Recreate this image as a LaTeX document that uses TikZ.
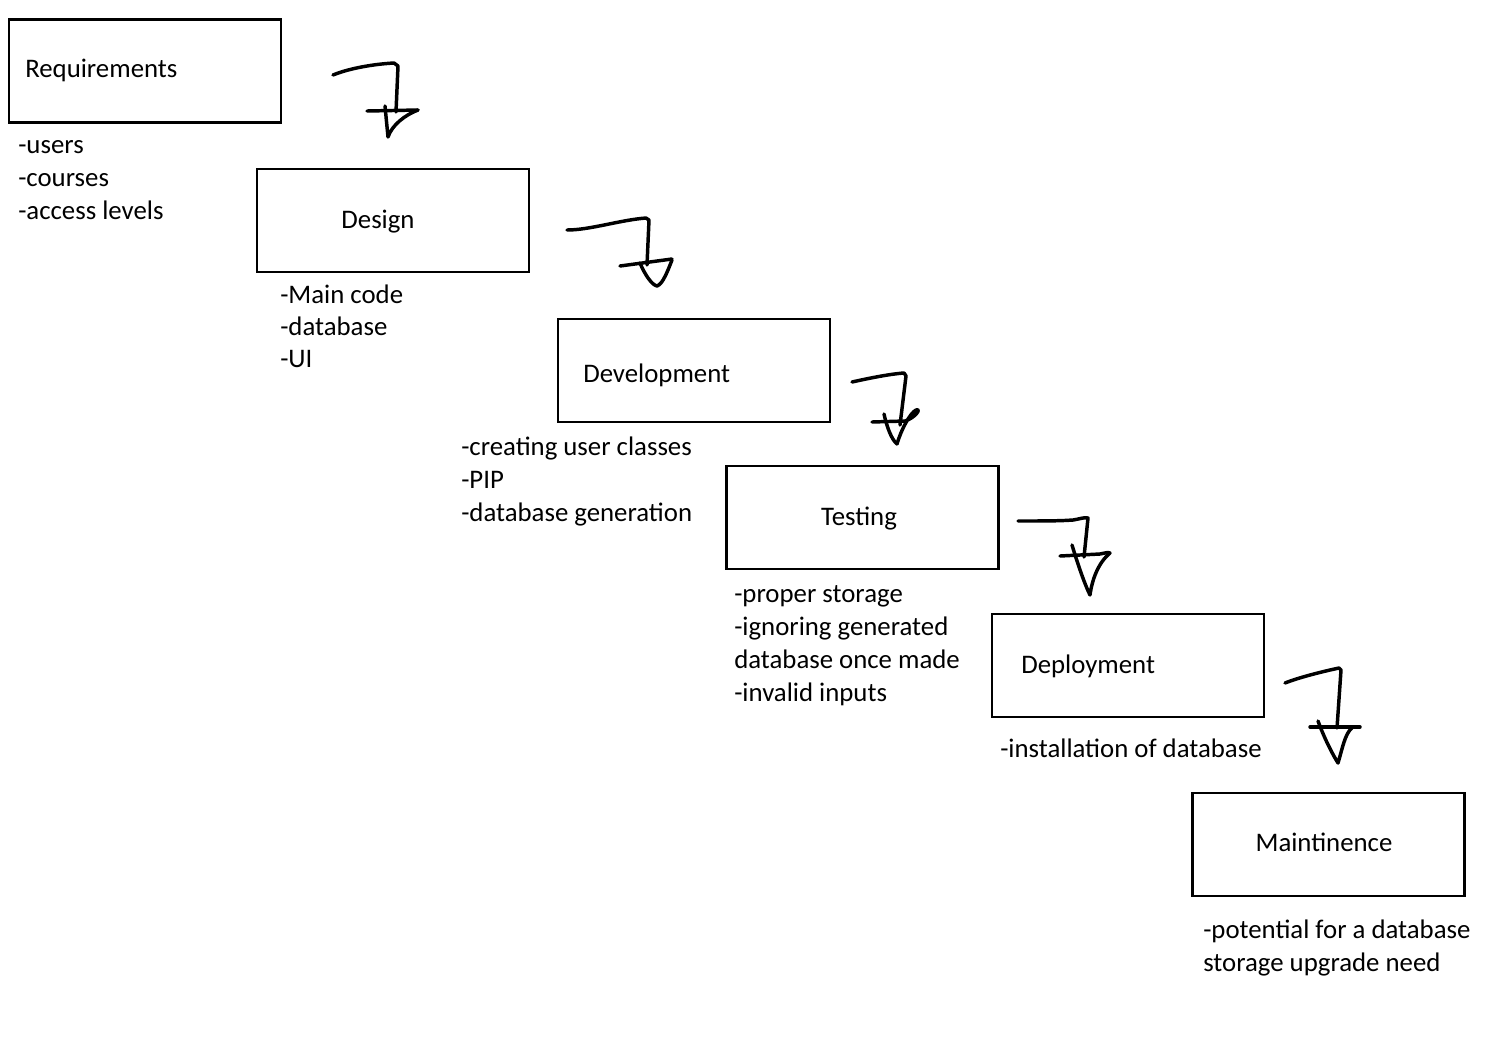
\documentclass[tikz,border=0pt]{standalone}
\usepackage{fontspec}
\setmainfont{Carlito}
\begin{document}
\begin{tikzpicture}[x=0.75pt,y=-0.75pt,
  stage/.style={draw=black, line width=1.8pt, rectangle, minimum width=204pt, minimum height=77.25pt, inner sep=0pt},
  lbl/.style={inner sep=0pt, font=\fontsize{20.1}{24.75}\selectfont, text=black},
  stroke/.style={draw=black, line width=2.6pt, line cap=round, line join=round}]
\useasboundingbox[fill=white] (0,0) rectangle (1488,1040);

% stage boxes
\node[stage] (req) at (145,71) {};
\node[stage] (des) at (393,220.5) {};
\node[stage] (dev) at (694,370.5) {};
\node[stage] (tst) at (862.5,517.5) {};
\node[stage] (dep) at (1128,665.5) {};
\node[stage] (mnt) at (1328.5,844.5) {};

% titles
\node[lbl, anchor=base west] (reqT) at (25,77) {Requirements};
\node[lbl, anchor=base] (desT) at (378,228) {Design};
\node[lbl, anchor=base west] (devT) at (583,382) {Development};
\node[lbl, anchor=base] (tstT) at (859,525) {Testing};
\node[lbl, anchor=base west] (depT) at (1021,673) {Deployment};
\node[lbl, anchor=base] (mntT) at (1324,851) {Maintinence};

% notes
\node[lbl, anchor=base west] (r1) at (18,153) {-users};
\node[lbl, anchor=base west] (r2) at (18,186) {-courses};
\node[lbl, anchor=base west] (r3) at (18,219) {-access levels};

\node[lbl, anchor=base west] (d1) at (280,303) {-Main code};
\node[lbl, anchor=base west] (d2) at (280,335) {-database};
\node[lbl, anchor=base west] (d3) at (280,367) {-UI};

\node[lbl, anchor=base west] (v1) at (461,455) {-creating user classes};
\node[lbl, anchor=base west] (v2) at (461,488) {-PIP};
\node[lbl, anchor=base west] (v3) at (461,521) {-database generation};

\node[lbl, anchor=base west] (t1) at (734,602) {-proper storage};
\node[lbl, anchor=base west] (t2) at (734,635) {-ignoring generated};
\node[lbl, anchor=base west] (t3) at (734,668) {database once made};
\node[lbl, anchor=base west] (t4) at (734,701) {-invalid inputs};

\node[lbl, anchor=base west] (p1) at (1000,757) {-installation of database};

\node[lbl, anchor=base west] (m1) at (1203,938) {-potential for a database};
\node[lbl, anchor=base west] (m2) at (1203,971) {storage upgrade need};

% hand-drawn arrows
% 1: Requirements -> Design
\draw[stroke] (333,75) .. controls (350,68) and (375,64) .. (394,63) -- (398,66) -- (396,112);
\draw[stroke] (367,111) -- (418,110);
\draw[stroke] (418,110) .. controls (405,115) and (392,125) .. (388,137) -- (385,106);

% 2: Design -> Development
\draw[stroke] (567,230) .. controls (590,230) and (620,220) .. (646,218) -- (649,220) -- (647,265);
\draw[stroke] (620,266) -- (672,259);
\draw[stroke] (640,263) .. controls (645,275) and (652,285) .. (657,286) .. controls (663,284) and (668,270) .. (672,260);

% 3: Development -> Testing
\draw[stroke] (852,382) .. controls (870,378) and (890,374) .. (904,373) -- (906,376) -- (900,425);
\draw[stroke] (872,422) -- (905,421) .. controls (915,418) and (922,408) .. (916,410) .. controls (910,413) and (901,430) .. (897,444);
\draw[stroke] (884,414) .. controls (887,428) and (892,440) .. (897,444);

% 4: Testing -> Deployment
\draw[stroke] (1018,521) .. controls (1040,521) and (1060,521) .. (1073,520) .. controls (1080,519) and (1084,517) .. (1088,518) -- (1084,557);
\draw[stroke] (1060,556) -- (1100,554) .. controls (1105,553) and (1108,552) .. (1110,553);
\draw[stroke] (1072,545) .. controls (1078,565) and (1085,585) .. (1090,595) .. controls (1092,580) and (1098,563) .. (1110,553);

% 5: Deployment -> Maintinence
\draw[stroke] (1285,683) .. controls (1300,677) and (1325,671) .. (1339,668) -- (1341,670) -- (1337,728);
\draw[stroke] (1310,727) -- (1360,727);
\draw[stroke] (1318,721) .. controls (1325,740) and (1333,755) .. (1338,763) .. controls (1342,750) and (1345,733) .. (1352,728);
\end{tikzpicture}
\end{document}
